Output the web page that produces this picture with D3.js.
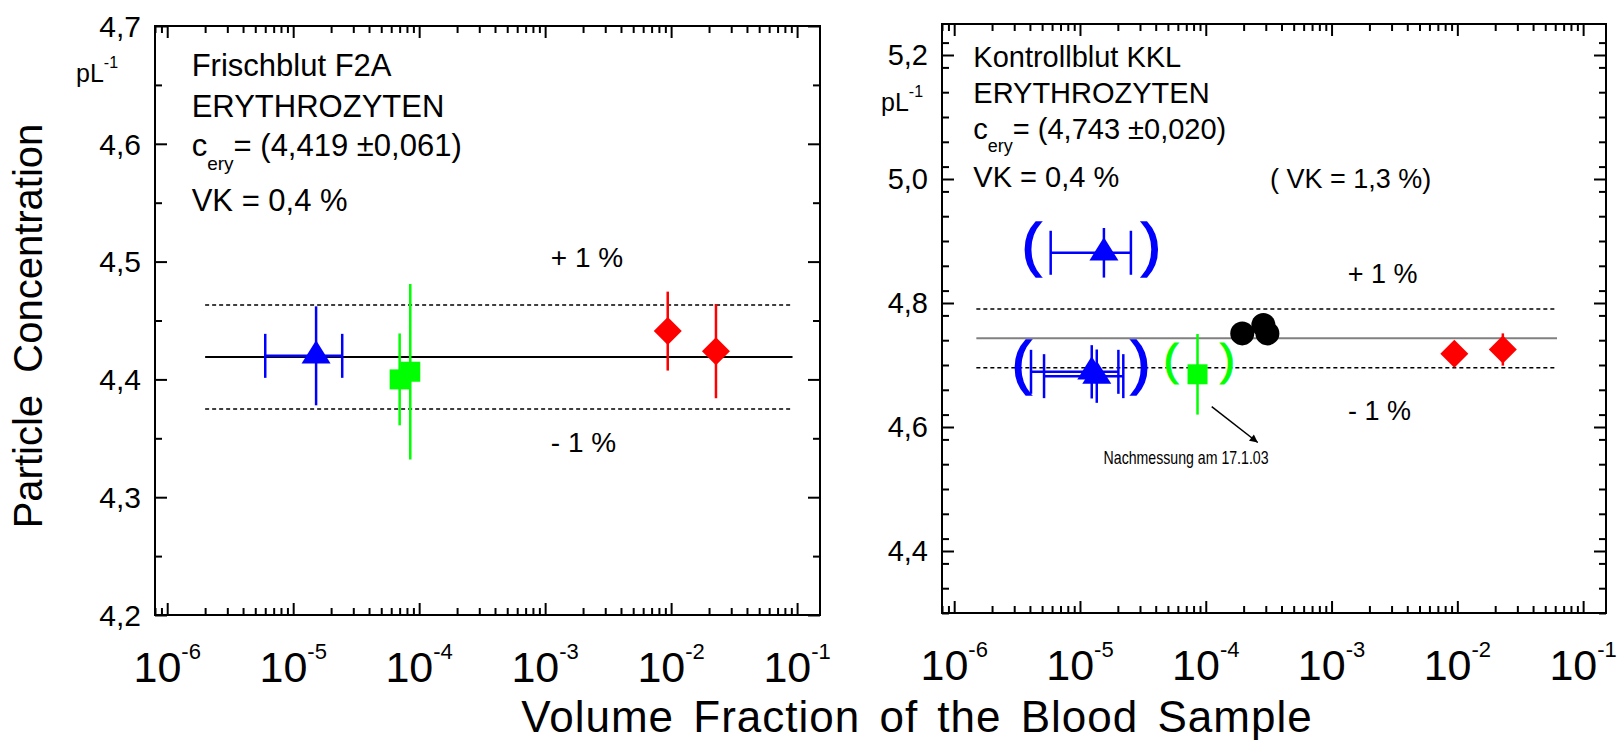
<!DOCTYPE html>
<html>
<head>
<meta charset="utf-8">
<script src="https://cdn.jsdelivr.net/npm/d3@7"></script>
<style>
  body { margin: 0; background: #fff; }
  svg { display: block; font-family: 'Liberation Sans', Arial, sans-serif; }
  text { fill: #000; white-space: pre; }
</style>
</head>
<body>
<svg id="chart" width="1617" height="740"></svg>
<script>
// ---- values ----
var xTicks = [1e-6, 1e-5, 1e-4, 1e-3, 1e-2, 1e-1];
var xTickExp = ['-6', '-5', '-4', '-3', '-2', '-1'];
var xDomain = [8e-7, 0.152];

var f2aYDomain = [4.2, 4.7];
var f2aYTicks = [4.2, 4.3, 4.4, 4.5, 4.6, 4.7];
var f2aYTickLabels = ['4,2', '4,3', '4,4', '4,5', '4,6', '4,7'];
var f2aMean = 4.419;
var f2aLineX = [2e-6, 0.092];
var f2aTriangles = [{x: 1.52e-5, y: 4.420, yErr: 0.042, xLo: 6.0e-6, xHi: 2.45e-5}];
var f2aSquares = [{x: 7.0e-5, y: 4.400, yErr: 0.039}, {x: 8.5e-5, y: 4.4065, yErr: 0.0745}];
var f2aDiamonds = [{x: 9.4e-3, y: 4.441, yErr: 0.0335}, {x: 2.27e-2, y: 4.424, yErr: 0.040}];
var f2aInfo = ['Frischblut F2A', 'ERYTHROZYTEN', '(4,419 ±0,061)', 'VK = 0,4 %'];

var kklYDomain = [4.3, 5.25];
var kklYTicks = [4.4, 4.6, 4.8, 5.0, 5.2];
var kklYTickLabels = ['4,4', '4,6', '4,8', '5,0', '5,2'];
var kklMean = 4.743;
var kklLineX = [1.5e-6, 0.062];
var kklTriangles = [
  {x: 1.55e-5, y: 4.881, yErr: 0.040, xLo: 5.85e-6, xHi: 2.54e-5},
  {x: 1.24e-5, y: 4.689, yErr: 0.043, xLo: 4.08e-6, xHi: 2.02e-5},
  {x: 1.36e-5, y: 4.682, yErr: 0.043, xLo: 5.18e-6, xHi: 2.21e-5}
];
var kklSquares = [{x: 8.6e-5, y: 4.685, yErr: 0.065}];
var kklCircles = [{x: 1.95e-4, y: 4.751}, {x: 2.87e-4, y: 4.7645}, {x: 3.09e-4, y: 4.751}];
var kklDiamonds = [{x: 9.46e-3, y: 4.718, yErr: 0.020}, {x: 2.30e-2, y: 4.725, yErr: 0.026}];
var kklBlueParens = [{lo: 4.12e-6, hi: 3.67e-5, y: 4.886}, {lo: 3.43e-6, hi: 3.03e-5, y: 4.695}];
var kklGreenParens = [{lo: 5.29e-5, hi: 1.49e-4, y: 4.702}];
var kklArrow = {x0: 1.115e-4, y0: 4.633, x1: 2.59e-4, y1: 4.575};
var kklNote = {x: 1.54e-5, y: 4.540, text: 'Nachmessung am 17.1.03'};
var kklInfo = ['Kontrollblut KKL', 'ERYTHROZYTEN', '(4,743 ±0,020)', 'VK = 0,4 %'];

var plusLabels = {f2a: [{x: 1.11e-3, y: 4.4957, t: '+ 1 %'}, {x: 1.11e-3, y: 4.3386, t: '- 1 %'}],
                  kkl: [{x: 1.345e-3, y: 4.8318, t: '+ 1 %'}, {x: 1.35e-3, y: 4.6113, t: '- 1 %'}]};

var blue = '#0000ff';
var green = '#00ff00';
var red = '#ff0000';

var svg = d3.select('#chart');

// ---- panel frame, ticks and tick labels ----
var makePanel = function(cfg) {
  var x = d3.scaleLog().domain(xDomain).range([cfg.left, cfg.right]);
  var y = d3.scaleLinear().domain(cfg.yDomain).range([cfg.bottom, cfg.top]);
  var g = svg.append('g');

  var xMinor = [];
  for (var e = -7; e <= -1; e++) {
    for (var m = 2; m <= 9; m++) {
      var v = m * Math.pow(10, e);
      if (v >= xDomain[0] * 0.999 && v <= xDomain[1]) xMinor.push(v);
    }
  }
  var yMinor = d3.range(cfg.yDomain[0], cfg.yDomain[1] + 1e-9, cfg.yMinorStep).filter(function(v) {
    return !cfg.yTicks.some(function(t) { return Math.abs(t - v) < 1e-6; });
  });

  var addAxis = function(axis, tx, ty) {
    var a = g.append('g').attr('transform', 'translate(' + tx + ',' + ty + ')').call(axis);
    a.select('.domain').remove();
    a.selectAll('text').remove();
    a.selectAll('line').attr('stroke', '#000').attr('stroke-width', 2);
  };
  [[12, xTicks], [7, xMinor]].forEach(function(d) {
    addAxis(d3.axisBottom(x).tickValues(d[1]).tickSize(-d[0]).tickSizeOuter(0), 0, cfg.bottom);
    addAxis(d3.axisTop(x).tickValues(d[1]).tickSize(-d[0]).tickSizeOuter(0), 0, cfg.top);
  });
  [[12, cfg.yTicks], [7, yMinor]].forEach(function(d) {
    addAxis(d3.axisLeft(y).tickValues(d[1]).tickSize(-d[0]).tickSizeOuter(0), cfg.left, 0);
    addAxis(d3.axisRight(y).tickValues(d[1]).tickSize(-d[0]).tickSizeOuter(0), cfg.right, 0);
  });

  g.append('rect')
    .attr('x', cfg.left).attr('y', cfg.top)
    .attr('width', cfg.right - cfg.left).attr('height', cfg.bottom - cfg.top)
    .attr('fill', 'none').attr('stroke', '#000').attr('stroke-width', 2);

  // x tick labels 10^n
  var xl = g.selectAll('.xlab').data(xTicks).enter().append('text')
    .attr('x', function(d) { return x(d); })
    .attr('y', cfg.bottom + 67)
    .style('text-anchor', 'middle')
    .style('font-size', '43px');
  xl.append('tspan').text('10');
  xl.append('tspan').attr('dy', -23).style('font-size', '22px')
    .text(function(d, i) { return xTickExp[i]; });

  // y tick labels
  g.selectAll('.ylab').data(cfg.yTicks).enter().append('text')
    .attr('x', cfg.left - 14)
    .attr('y', function(d) { return y(d) + cfg.yFont * 0.358; })
    .style('text-anchor', 'end')
    .style('font-size', cfg.yFont + 'px')
    .text(function(d, i) { return cfg.yTickLabels[i]; });

  return {x: x, y: y, g: g};
};

var drawRefLines = function(p, mean, lineX, meanColor) {
  [1.01, 0.99].forEach(function(f) {
    p.g.append('line')
      .attr('x1', p.x(lineX[0])).attr('x2', p.x(lineX[1]))
      .attr('y1', p.y(mean * f)).attr('y2', p.y(mean * f))
      .attr('stroke', '#000').attr('stroke-width', 1.5).attr('stroke-dasharray', '4,3');
  });
  p.g.append('line')
    .attr('x1', p.x(lineX[0])).attr('x2', p.x(lineX[1]))
    .attr('y1', p.y(mean)).attr('y2', p.y(mean))
    .attr('stroke', meanColor).attr('stroke-width', 2);
};

var drawErrors = function(p, data, color, caps) {
  var eg = p.g.append('g').attr('stroke', color).attr('stroke-width', 2.5);
  data.forEach(function(d) {
    eg.append('line')
      .attr('x1', p.x(d.x)).attr('x2', p.x(d.x))
      .attr('y1', p.y(d.y - d.yErr)).attr('y2', p.y(d.y + d.yErr));
    if (caps) {
      eg.append('line')
        .attr('x1', p.x(d.xLo)).attr('x2', p.x(d.xHi))
        .attr('y1', p.y(d.y)).attr('y2', p.y(d.y));
      [d.xLo, d.xHi].forEach(function(c) {
        eg.append('line')
          .attr('x1', p.x(c)).attr('x2', p.x(c))
          .attr('y1', p.y(d.y) - 22).attr('y2', p.y(d.y) + 22);
      });
    }
  });
};

var trianglePath = function(cx, cy) {
  return 'M' + cx + ',' + (cy - 15.5) + 'L' + (cx + 14.5) + ',' + (cy + 7.7) + 'L' + (cx - 14.5) + ',' + (cy + 7.7) + 'Z';
};
var diamondPath = function(cx, cy) {
  return 'M' + cx + ',' + (cy - 14) + 'L' + (cx + 14) + ',' + cy + 'L' + cx + ',' + (cy + 14) + 'L' + (cx - 14) + ',' + cy + 'Z';
};

var drawTriangles = function(p, data) {
  drawErrors(p, data, blue, true);
  p.g.selectAll(null).data(data).enter().append('path')
    .attr('d', function(d) { return trianglePath(p.x(d.x), p.y(d.y)); })
    .attr('fill', blue);
};
var drawSquares = function(p, data) {
  drawErrors(p, data, green, false);
  p.g.selectAll(null).data(data).enter().append('rect')
    .attr('x', function(d) { return p.x(d.x) - 10; })
    .attr('y', function(d) { return p.y(d.y) - 10; })
    .attr('width', 20).attr('height', 20)
    .attr('fill', green);
};
var drawDiamonds = function(p, data) {
  drawErrors(p, data, red, false);
  p.g.selectAll(null).data(data).enter().append('path')
    .attr('d', function(d) { return diamondPath(p.x(d.x), p.y(d.y)); })
    .attr('fill', red);
};

var drawInfo = function(p, cfg, lines) {
  var t = p.g.append('g').style('font-size', cfg.infoFont + 'px');
  t.append('text').attr('x', cfg.infoX).attr('y', cfg.infoY[0]).text(lines[0]);
  t.append('text').attr('x', cfg.infoX).attr('y', cfg.infoY[1]).text(lines[1]);
  var c = t.append('text').attr('x', cfg.infoX).attr('y', cfg.infoY[2]);
  c.append('tspan').text('c');
  c.append('tspan').attr('dy', cfg.subDy).style('font-size', cfg.subFont + 'px').text('ery');
  c.append('tspan').attr('dy', -cfg.subDy).text('= ' + lines[2]);
  t.append('text').attr('x', cfg.infoX).attr('y', cfg.infoY[3]).text(lines[3]);

  var u = p.g.append('text').attr('x', cfg.unitX).attr('y', cfg.unitY).style('font-size', '25px');
  u.append('tspan').text('pL');
  u.append('tspan').attr('dy', -14).style('font-size', '16px').text('-1');
};

var drawPercent = function(p, data, size) {
  p.g.selectAll(null).data(data).enter().append('text')
    .attr('x', function(d) { return p.x(d.x); })
    .attr('y', function(d) { return p.y(d.y); })
    .style('font-size', size + 'px')
    .text(function(d) { return d.t; });
};

// ---- left panel: Frischblut F2A ----
var leftCfg = {left: 155, right: 820, top: 26, bottom: 615, yDomain: f2aYDomain, yTicks: f2aYTicks,
  yTickLabels: f2aYTickLabels, yMinorStep: 0.05, yFont: 30,
  infoX: 191.7, infoY: [76, 116.7, 156, 210.7], infoFont: 31, subFont: 19, subDy: 14, unitX: 76, unitY: 82};
var left = makePanel(leftCfg);
drawRefLines(left, f2aMean, f2aLineX, '#000');
drawTriangles(left, f2aTriangles);
drawSquares(left, f2aSquares);
drawDiamonds(left, f2aDiamonds);
drawInfo(left, leftCfg, f2aInfo);
drawPercent(left, plusLabels.f2a, 28);

// ---- right panel: Kontrollblut KKL ----
var rightCfg = {left: 942, right: 1606, top: 24, bottom: 613, yDomain: kklYDomain, yTicks: kklYTicks,
  yTickLabels: kklYTickLabels, yMinorStep: 0.04, yFont: 29,
  infoX: 973.3, infoY: [66.7, 102.7, 139.3, 186.7], infoFont: 29, subFont: 18, subDy: 12.5, unitX: 881, unitY: 110.5};
var right = makePanel(rightCfg);
drawRefLines(right, kklMean, kklLineX, '#808080');

// brackets around the doubtful measurements
right.g.selectAll(null).data(kklBlueParens.concat(kklGreenParens)).enter()
  .each(function(d, i) {
    var isBlue = i < kklBlueParens.length;
    var size = isBlue ? 59 : 45;
    var col = isBlue ? blue : green;
    [['(', d.lo], [')', d.hi]].forEach(function(pp) {
      right.g.append('text')
        .attr('x', right.x(pp[1]))
        .attr('y', right.y(d.y) + size * 0.26)
        .style('text-anchor', 'middle')
        .style('font-size', size + 'px')
        .style('fill', col)
        .style('stroke', col)
        .style('stroke-width', isBlue ? 1.6 : 1)
        .text(pp[0]);
    });
  });

drawTriangles(right, kklTriangles);
drawSquares(right, kklSquares);
right.g.selectAll(null).data(kklCircles).enter().append('circle')
  .attr('cx', function(d) { return right.x(d.x); })
  .attr('cy', function(d) { return right.y(d.y); })
  .attr('r', 12)
  .attr('fill', '#000');
drawDiamonds(right, kklDiamonds);
drawInfo(right, rightCfg, kklInfo);
drawPercent(right, plusLabels.kkl, 27);

right.g.append('text')
  .attr('x', 1270).attr('y', 188.3)
  .style('font-size', '27px')
  .text('( VK = 1,3 %)');

svg.append('defs').append('marker')
  .attr('id', 'arrow').attr('viewBox', '0 0 10 10')
  .attr('refX', 10).attr('refY', 5)
  .attr('markerWidth', 12).attr('markerHeight', 8)
  .attr('markerUnits', 'userSpaceOnUse')
  .attr('orient', 'auto')
  .append('path').attr('d', 'M0,0L10,5L0,10Z').attr('fill', '#000');

right.g.append('line')
  .attr('x1', right.x(kklArrow.x0)).attr('y1', right.y(kklArrow.y0))
  .attr('x2', right.x(kklArrow.x1)).attr('y2', right.y(kklArrow.y1))
  .attr('stroke', '#000').attr('stroke-width', 1.5)
  .attr('marker-end', 'url(#arrow)');

right.g.append('text')
  .attr('x', right.x(kklNote.x)).attr('y', right.y(kklNote.y))
  .attr('textLength', 165).attr('lengthAdjust', 'spacingAndGlyphs')
  .style('font-size', '19px')
  .text(kklNote.text);

// ---- axis titles ----
svg.append('text')
  .attr('transform', 'translate(42,326) rotate(-90)')
  .style('text-anchor', 'middle')
  .style('font-size', '40px')
  .text('Particle  Concentration');

svg.append('text')
  .attr('x', 917).attr('y', 732)
  .style('text-anchor', 'middle')
  .style('font-size', '44px')
  .style('letter-spacing', '1px')
  .style('word-spacing', '6px')
  .text('Volume Fraction of the Blood Sample');
</script>
</body>
</html>
